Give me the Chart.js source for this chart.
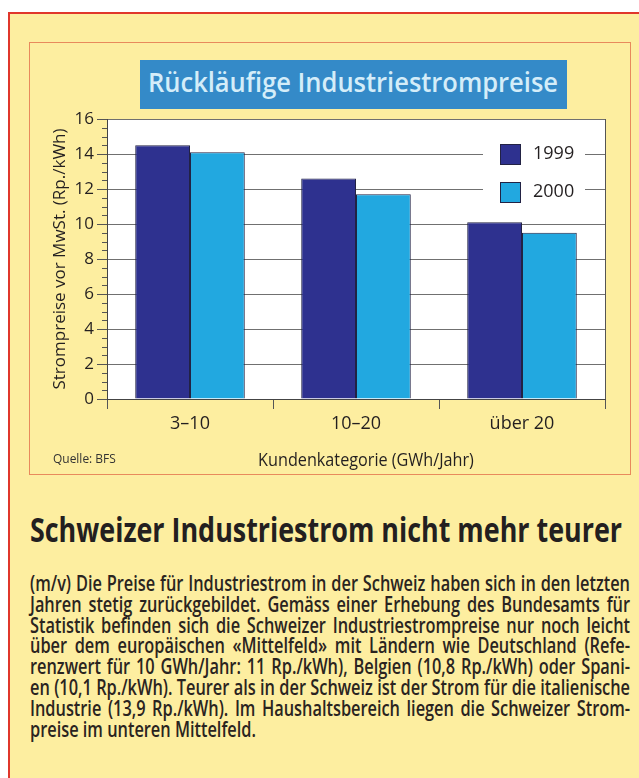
<!DOCTYPE html>
<html>
<head>
<meta charset="utf-8">
<script src="https://cdn.jsdelivr.net/npm/chart.js@4"></script>
<style>
  body { margin: 0; width: 639px; height: 778px; overflow: hidden; background: #fff; position: relative; font-family: 'Open Sans', sans-serif; color: #231f20; }
  #frame { position: absolute; left: 8px; top: 12px; width: 660px; height: 800px; background: #fdeea0; border: 2px solid #e0372b; }
  #inner { position: absolute; left: 29px; top: 42px; width: 600px; height: 431px; border: 1px solid #e88a5c; }
  #titlebox { position: absolute; left: 140px; top: 60px; width: 427px; height: 49px; background: #348ac8; }
  #title { position: absolute; left: 8px; top: 3px; white-space: nowrap; font: 600 27px 'Open Sans', sans-serif; color: #d4edf9; transform-origin: left top; }
  #chart { position: absolute; left: 0; top: 0; }
  #source { position: absolute; left: 53px; top: 449px; font: 13px 'Open Sans', sans-serif; color: #333; transform: scaleX(0.92); transform-origin: left top; }
  #xtitle { position: absolute; left: 366px; top: 447px; white-space: nowrap; font: 18px 'Open Sans', sans-serif; color: #231f20; transform: translateX(-50%) scaleX(0.9); }
  #headline { position: absolute; left: 30px; top: 506px; white-space: nowrap; font: 700 34px 'Open Sans', sans-serif; color: #231f20; transform-origin: left top; }
  #body { position: absolute; left: 30px; top: 569px; }
  .line { height: 20.8px; line-height: 20.8px; font: 600 21px 'Open Sans', sans-serif; color: #2a2420; text-align: justify; text-align-last: justify; transform-origin: left top; }
  .line.last { text-align-last: left; }
</style>
</head>
<body>
<div id="frame"></div>
<div id="inner"></div>
<div id="titlebox"><div id="title">Rückläufige Industriestrompreise</div></div>
<canvas id="chart" width="639" height="480"></canvas>
<div id="source">Quelle: BFS</div>
<div id="xtitle">Kundenkategorie (GWh/Jahr)</div>
<div id="headline">Schweizer Industriestrom nicht mehr teurer</div>
<div id="body"></div>
<script>
const categories = ['3–10', '10–20', 'über 20'];
const years = ['1999', '2000'];
const prices1999 = [14.5, 12.6, 10.1];
const prices2000 = [14.1, 11.7, 9.5];
const yMin = 0;
const yMax = 16;
const yStep = 2;
const yMinorStep = 0.5;

const bodyLines = [
  '(m/v) Die Preise für Industriestrom in der Schweiz haben sich in den letzten',
  'Jahren stetig zurückgebildet. Gemäss einer Erhebung des Bundesamts für',
  'Statistik befinden sich die Schweizer Industriestrompreise nur noch leicht',
  'über dem europäischen «Mittelfeld» mit Ländern wie Deutschland (Refe-',
  'renzwert für 10 GWh/Jahr: 11 Rp./kWh), Belgien (10,8 Rp./kWh) oder Spani-',
  'en (10,1 Rp./kWh). Teurer als in der Schweiz ist der Strom für die italienische',
  'Industrie (13,9 Rp./kWh). Im Haushaltsbereich liegen die Schweizer Strom-',
  'preise im unteren Mittelfeld.',
];

// squeeze text to fit the condensed print widths
const measure = document.createElement('canvas').getContext('2d');
function fitWidth(el, font, text, target) {
  measure.font = font;
  const w = measure.measureText(text).width;
  el.style.transform = 'scaleX(' + (target / w) + ')';
}
fitWidth(document.getElementById('title'), "600 27px 'Open Sans'", 'Rückläufige Industriestrompreise', 410);
fitWidth(document.getElementById('headline'), "700 34px 'Open Sans'", 'Schweizer Industriestrom nicht mehr teurer', 592);

const bodyFont = "600 21px 'Open Sans'";
measure.font = bodyFont;
let widest = 0;
bodyLines.slice(0, -1).forEach((t) => { widest = Math.max(widest, measure.measureText(t).width); });
const squeeze = 600 / (widest + 2);
const bodyEl = document.getElementById('body');
bodyLines.forEach((t, i) => {
  const d = document.createElement('div');
  d.className = 'line' + (i === bodyLines.length - 1 ? ' last' : '');
  d.textContent = t;
  d.style.width = (600 / squeeze) + 'px';
  d.style.transform = 'scaleX(' + squeeze + ')';
  bodyEl.appendChild(d);
});

const plotFrame = {
  id: 'plotFrame',
  beforeDraw(chart) {
    const { ctx, chartArea: a } = chart;
    ctx.save();
    ctx.fillStyle = '#ffffff';
    ctx.fillRect(a.left, a.top, a.right - a.left, a.bottom - a.top);
    ctx.restore();
  },
  afterDraw(chart) {
    const { ctx, chartArea: a } = chart;
    const y = chart.scales.y;
    ctx.save();
    ctx.strokeStyle = '#555';
    ctx.lineWidth = 1;
    ctx.beginPath();
    ctx.moveTo(a.right + 0.5, a.top);
    ctx.lineTo(a.right + 0.5, a.bottom);
    // minor ticks on the value axis
    for (let v = yMin; v <= yMax; v += yMinorStep) {
      if (v % yStep === 0) continue;
      const py = Math.round(y.getPixelForValue(v)) + 0.5;
      ctx.moveTo(a.left - 5, py);
      ctx.lineTo(a.left, py);
    }
    ctx.stroke();

    // legend inside the plot, top right
    const lx = a.right - 122;
    const ly = a.top + 20;
    ctx.fillStyle = '#ffffff';
    ctx.fillRect(lx, ly, 102, 68);
    chart.data.datasets.forEach((ds, i) => {
      const by = ly + 5 + i * 38;
      ctx.fillStyle = ds.backgroundColor;
      ctx.fillRect(lx + 17, by, 20, 20);
      ctx.strokeStyle = '#222244';
      ctx.strokeRect(lx + 17.5, by + 0.5, 20, 20);
      ctx.fillStyle = '#231f20';
      ctx.font = "18px 'Open Sans'";
      ctx.textBaseline = 'middle';
      ctx.fillText(ds.label, lx + 50, by + 10);
    });
    ctx.restore();
  },
};

new Chart(document.getElementById('chart'), {
  type: 'bar',
  data: {
    labels: categories,
    datasets: [
      { label: years[0], data: prices1999, backgroundColor: '#2e318f', borderColor: '#222244', borderWidth: 1 },
      { label: years[1], data: prices2000, backgroundColor: '#22a8e0', borderColor: '#222244', borderWidth: 1 },
    ],
  },
  options: {
    responsive: false,
    devicePixelRatio: 1,
    animation: false,
    categoryPercentage: 0.66,
    barPercentage: 1,
    layout: { padding: { left: 50, right: 34, top: 119, bottom: 41 } },
    plugins: {
      legend: { display: false },
      tooltip: { enabled: false },
    },
    scales: {
      x: {
        grid: { offset: true, drawOnChartArea: false, tickLength: 10, color: '#555' },
        border: { color: '#444', width: 1 },
        ticks: { color: '#231f20', padding: 4, font: { family: 'Open Sans', size: 18 } },
        afterFit: (scale) => { scale.height = 40; },
      },
      y: {
        min: yMin,
        max: yMax,
        grid: { color: '#707070', lineWidth: 1, tickLength: 10, tickColor: '#555' },
        border: { color: '#444', width: 1 },
        ticks: { stepSize: yStep, color: '#231f20', padding: 3, font: { family: 'Open Sans', size: 17 } },
        title: { display: true, text: 'Strompreise vor MwSt. (Rp./kWh)', color: '#231f20', padding: 0, font: { family: 'Open Sans', size: 17 } },
        afterFit: (scale) => { scale.width = 57; },
      },
    },
  },
  plugins: [plotFrame],
});
</script>
</body>
</html>
